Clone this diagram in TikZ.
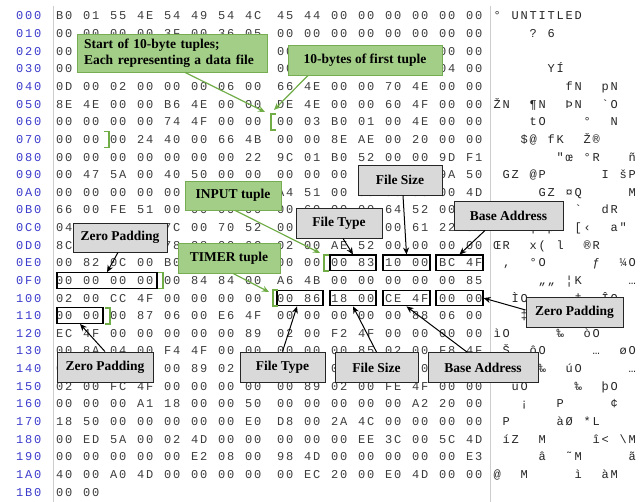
\documentclass[tikz,border=0pt]{standalone}
\usepackage{fontspec}
\setmainfont{Liberation Serif}
\newfontfamily\hexfont{Liberation Mono}
\usetikzlibrary{arrows.meta}
\definecolor{addrblue}{RGB}{60,60,205}
\definecolor{hexgray}{RGB}{60,60,60}
\definecolor{sepgray}{RGB}{205,205,205}
\definecolor{gfill}{RGB}{163,206,135}
\definecolor{gdraw}{RGB}{118,172,82}
\definecolor{garrow}{RGB}{112,173,71}
\definecolor{boxgray}{RGB}{217,217,217}
% cell-by-cell typesetting (9pt pitch)
\def\cellsloop#1{\ifx#1\relax\else\ifx#1.\hspace*{9pt}\else\makebox[9pt][c]{#1}\fi\expandafter\cellsloop\fi}
\newcommand\cells[1]{\cellsloop#1\relax}
\def\hexloop#1#2{\ifx#1\relax\else\makebox[9pt][c]{#1}\makebox[9pt][c]{#2}\hspace*{9pt}\expandafter\hexloop\fi}
\newcommand\hexg[1]{\hexloop#1\relax\relax}
\tikzset{
  monotext/.style={anchor=base west, inner sep=0pt, font=\hexfont\fontsize{12}{12}\selectfont},
  addr/.style={monotext, text=addrblue},
  hex/.style={monotext, text=hexgray},
  asc/.style={monotext, text=black!85},
  gbox/.style={draw=gdraw, fill=gfill, line width=0.8pt, inner sep=0pt, font=\bfseries\fontsize{13.5}{15.5}\selectfont},
  graybox/.style={draw=black!85, fill=boxgray, line width=0.9pt, inner sep=0pt, font=\bfseries\fontsize{13.5}{15.5}\selectfont},
  bytebox/.style={draw=black, line width=1.1pt, inner sep=0pt, minimum height=15.5pt},
  gbrack/.style={draw=garrow, line width=1.8pt},
  garr/.style={draw=garrow, line width=1.2pt, -{Stealth[length=7pt,width=6pt]}},
  barr/.style={draw=black, line width=1pt, -{Stealth[length=7pt,width=6pt]}},
  sepline/.style={draw=sepgray, line width=0.8pt}
}
\newcommand\hexrow[5]{%
  \node[addr] (ad#1) at (15,{16+17.63*#1+4}) {\cells{#2}};
  \node[hex] (ga#1) at (55,{16+17.63*#1+4}) {\hexg{#3}};
  \node[hex] (gb#1) at (276,{16+17.63*#1+4}) {\hexg{#4}};
  \node[asc] (as#1) at (492.5,{16+17.63*#1+4}) {\cells{#5}};
}
\begin{document}
\begin{tikzpicture}[x=1pt,y=-1pt]
\fill[white] (0,0) rectangle (642,502);
\useasboundingbox (0,0) rectangle (642,502);
\draw[sepline] (53,6) -- (53,502);
\draw[sepline] (490,6) -- (490,502);
\hexrow{0}{000}{B0 01 55 4E 54 49 54 4C}{45 44 00 00 00 00 00 00}{°.UNTITLED......}
\hexrow{1}{010}{00 00 00 00 3F 00 36 05}{00 00 00 00 00 00 00 00}{....?.6.........}
\hexrow{2}{020}{00 00 00 00 00 00 00 00}{00 00 00 00 00 00 00 00}{}
\hexrow{3}{030}{00 00 00 00 00 00 59 CD}{00 00 00 00 00 00 04 00}{......YÍ........}
\hexrow{4}{040}{0D 00 02 00 00 00 06 00}{66 4E 00 00 70 4E 00 00}{........fN..pN..}
\hexrow{5}{050}{8E 4E 00 00 B6 4E 00 00}{DE 4E 00 00 60 4F 00 00}{ŽN..¶N..ÞN..`O..}
\hexrow{6}{060}{00 00 00 00 74 4F 00 00}{00 03 B0 01 00 4E 00 00}{....tO....°..N..}
\hexrow{7}{070}{00 00 00 24 40 00 66 4B}{00 00 8E AE 00 20 00 00}{...\$@.fK..Ž®....}
\hexrow{8}{080}{00 00 00 00 00 00 00 22}{9C 01 B0 52 00 00 9D F1}{......."œ.°R...ñ}
\hexrow{9}{090}{00 47 5A 00 40 50 00 00}{00 00 00 00 49 00 9A 50}{.GZ.@P......I.šP}
\hexrow{10}{0A0}{00 00 00 00 00 47 5A 00}{A4 51 00 00 00 00 00 4D}{.....GZ.¤Q.....M}
\hexrow{11}{0B0}{66 00 FE 51 00 00 00 00}{00 60 00 00 64 52 00 00}{f.þQ.....`..dR..}
\hexrow{12}{0C0}{04 00 00 00 7C 00 70 52}{00 5B 8B 00 00 61 22 00}{....|.pR.[‹..a".}
\hexrow{13}{0D0}{8C 52 00 00 78 28 00 6C}{02 00 AE 52 00 00 00 00}{ŒR..x(.l..®R....}
\hexrow{14}{0E0}{00 82 0C 00 B0 4F 00 00}{00 00 00 83 10 00 BC 4F}{.‚..°O.....ƒ..¼O}
\hexrow{15}{0F0}{00 00 00 00 00 84 84 00}{A6 4B 00 00 00 00 00 85}{.....„„.¦K.....…}
\hexrow{16}{100}{02 00 CC 4F 00 00 00 00}{00 86 18 00 CE 4F 00 00}{..ÌO.....†..ÎO..}
\hexrow{17}{110}{00 00 00 87 06 00 E6 4F}{00 00 00 00 00 88 06 00}{...‡..æO.....ˆ..}
\hexrow{18}{120}{EC 4F 00 00 00 00 00 89}{02 00 F2 4F 00 00 00 00}{ìO.....‰..òO....}
\hexrow{19}{130}{00 8A 04 00 F4 4F 00 00}{00 00 00 85 02 00 F8 4F}{.Š..ôO.....…..øO}
\hexrow{20}{140}{00 00 00 00 00 89 02 00}{FA 4F 00 00 00 00 00 85}{.....‰..úO.....…}
\hexrow{21}{150}{02 00 FC 4F 00 00 00 00}{00 89 02 00 FE 4F 00 00}{..üO.....‰..þO..}
\hexrow{22}{160}{00 00 00 A1 18 00 00 50}{00 00 00 00 00 A2 20 00}{...¡...P.....¢..}
\hexrow{23}{170}{18 50 00 00 00 00 00 E0}{D8 00 2A 4C 00 00 00 00}{.P.....àØ.*L....}
\hexrow{24}{180}{00 ED 5A 00 02 4D 00 00}{00 00 00 EE 3C 00 5C 4D}{.íZ..M.....î<.\textbackslash M}
\hexrow{25}{190}{00 00 00 00 00 E2 08 00}{98 4D 00 00 00 00 00 E3}{.....â..˜M.....ã}
\hexrow{26}{1A0}{40 00 A0 4D 00 00 00 00}{00 EC 20 00 E0 4D 00 00}{@..M.....ì..àM..}
\hexrow{27}{1B0}{00 00}{}{}

% byte boxes
\node[bytebox, minimum width=46pt] (bA) at (353,262.8) {};
\node[bytebox, minimum width=47pt] (bB) at (406.5,262.8) {};
\node[bytebox, minimum width=47pt] (bC) at (459.5,262.8) {};
\node[bytebox, minimum width=100pt] (bZa) at (107,280.5) {};
\node[bytebox, minimum width=46pt] (bD) at (300,298.1) {};
\node[bytebox, minimum width=46pt] (bE) at (353,298.1) {};
\node[bytebox, minimum width=47pt] (bF) at (406.5,298.1) {};
\node[bytebox, minimum width=47pt] (bG) at (459.5,298.1) {};
\node[bytebox, minimum width=46pt] (bZb) at (80,315.7) {};

% green brackets
\draw[gbrack] (276,114) -- (271,114) -- (271,130) -- (276,130);
\draw[gbrack] (104,131.5) -- (109,131.5) -- (109,147.5) -- (104,147.5);
\draw[gbrack] (329,255) -- (324,255) -- (324,271) -- (329,271);
\draw[gbrack] (158,272.5) -- (163,272.5) -- (163,288.5) -- (158,288.5);
\draw[gbrack] (278,290) -- (273,290) -- (273,306) -- (278,306);
\draw[gbrack] (105,308) -- (110,308) -- (110,324) -- (105,324);

% arrow targets at the brackets
\coordinate (t1) at (265,112);
\coordinate (t2) at (274,110);
\coordinate (t3) at (320,253);
\coordinate (t4) at (269,292);

% green callouts
\node[gbox, minimum width=190pt, minimum height=38pt, text width=176pt, align=left] (G1) at (172,53) {Start of 10-byte tuples;\\Each representing a data file};
\node[gbox, minimum width=154pt, minimum height=30pt] (G2) at (365,60) {10-bytes of first tuple};
\node[gbox, minimum width=96pt, minimum height=29pt] (G3) at (233,195.5) {INPUT tuple};
\node[gbox, minimum width=102pt, minimum height=30pt] (G4) at (229,258) {TIMER tuple};

\draw[garr] ([xshift=13pt]G1.south) -- (t1);
\draw[garr] ([xshift=-57pt]G2.south) -- (t2);
\draw[garr] ([xshift=2pt]G3.south) -- (t3);
\draw[garr] ([xshift=4pt]G4.south) -- (t4);

% gray callouts
\node[graybox, minimum width=84pt, minimum height=30pt] (S1) at (400,180) {File Size};
\node[graybox, minimum width=86pt, minimum height=30pt] (T1) at (339,223) {File Type};
\node[graybox, minimum width=109pt, minimum height=29pt] (B1) at (508.5,215.5) {Base Address};
\node[graybox, minimum width=94pt, minimum height=29pt] (Z1) at (120,237.5) {Zero Padding};
\node[graybox, minimum width=96pt, minimum height=30pt] (Z2) at (105,367) {Zero Padding};
\node[graybox, minimum width=85pt, minimum height=30pt] (T2) at (282.5,367) {File Type};
\node[graybox, minimum width=83pt, minimum height=30pt] (S2) at (376.5,367.5) {File Size};
\node[graybox, minimum width=110pt, minimum height=30pt] (B2) at (483,367.5) {Base Address};
\node[graybox, minimum width=97pt, minimum height=30pt] (Z3) at (574.5,312) {Zero Padding};

\draw[barr] ([xshift=3pt]S1.south) -- (bB.north);
\draw[barr] ([xshift=4pt]T1.south) -- (bA.north);
\draw[barr] ([xshift=-23.5pt]B1.south) -- (bC.north);
\draw[barr] ([xshift=-2pt]Z1.south) -- (bZa.north);
\draw[barr] (Z2.north) -- (bZb.south);
\draw[barr] (T2.north) -- ([xshift=-3pt]bD.south);
\draw[barr] (S2.north) -- (bE.south);
\draw[barr] ([xshift=-16pt]B2.north) -- (bF.south);
\draw[barr] ([yshift=2pt]Z3.west) -- (bG.east);
\end{tikzpicture}
\end{document}
